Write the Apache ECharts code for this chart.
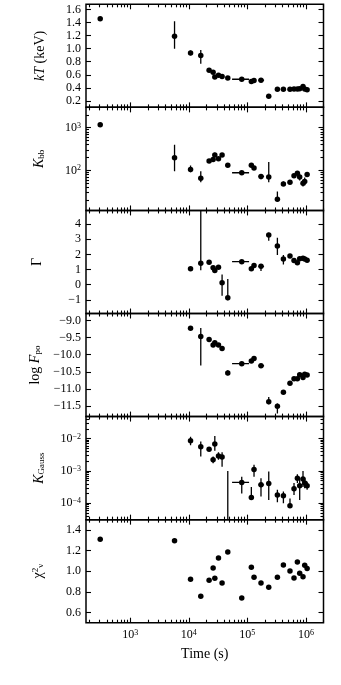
<!DOCTYPE html>
<html>
<head>
<meta charset="utf-8">
<script src="https://cdn.jsdelivr.net/npm/echarts@6/dist/echarts.min.js"></script>
<style>
  html, body { margin: 0; padding: 0; background: #fff; }
  #chart { width: 341px; height: 685px; }
</style>
</head>
<body>
<div id="chart"></div>
<script>
// epochs (s) and horizontal error bounds
var time   = [306, 5700, 10700, 16000, 22200, 26000, 27800, 32100, 37000, 46300, 80200, 117000, 130000, 171000, 232000, 326000, 413000, 535000, 627000, 716000, 784000, 893000, 955000, 1050000];
var timeLo = [null, null, null, null, null, null, null, null, null, null, 54800, null, null, 155000, null, null, null, null, null, null, null, null, null, null];
var timeHi = [null, null, null, null, null, null, null, null, null, null, 107000, null, null, 193000, null, null, null, null, null, null, null, null, null, null];

// kT (keV)
var kT   = [1.46, 1.19, 0.935, 0.895, 0.669, 0.638, 0.567, 0.592, 0.572, 0.552, 0.531, 0.496, 0.511, 0.516, 0.27, 0.378, 0.378, 0.378, 0.38, 0.38, 0.385, 0.419, 0.38, 0.37];
var kTLo = [null, 1.0, 0.9, 0.77, null, null, null, null, null, null, null, null, null, null, null, null, null, null, null, null, null, null, null, null];
var kTHi = [null, 1.42, 0.97, 0.98, null, null, null, null, null, null, null, null, null, null, null, null, null, null, null, null, null, null, null, null];

// K_bb
var kbb   = [1180, 198, 105, 65, 165, 181, 228, 188, 228, 131, 88, 131, 113, 72, 70, 21, 48, 53, 75, 86, 70, 50, 55, 80];
var kbbLo = [null, 95, 90, 53, null, null, 200, null, null, null, null, null, null, 62, 53, 19, 43, null, null, null, 58, 42, 45, null];
var kbbHi = [null, 400, 130, 96, null, null, 260, null, null, null, null, null, null, 80, 157, 32, 55, null, null, null, 80, 60, 68, null];

// photon index
var gamma   = [null, null, 1.06, 1.41, 1.49, 1.12, 0.94, 1.16, 0.13, -0.86, 1.52, 1.06, 1.27, 1.21, 3.28, 2.55, 1.69, 1.89, 1.6, 1.45, 1.72, 1.74, 1.69, 1.62];
var gammaLo = [null, null, null, 0.96, null, null, null, null, -0.73, -1.02, null, null, null, 0.9, 2.9, 1.96, 1.34, null, null, 1.3, null, null, null, null];
var gammaHi = [null, null, null, 6, null, null, null, null, 0.68, 0.37, null, null, null, 1.35, 3.43, 3.1, 1.96, null, null, 1.55, null, null, null, null];

// log F_po
var logF   = [null, null, -9.23, -9.47, -9.56, -9.72, -9.65, -9.72, -9.82, -10.53, -10.26, -10.18, -10.11, -10.32, -11.37, -11.5, -11.09, -10.83, -10.7, -10.7, -10.58, -10.66, -10.57, -10.59];
var logFLo = [null, null, null, -10.31, null, null, null, null, null, -10.6, null, null, null, null, -11.44, -11.71, null, null, null, null, null, null, null, null];
var logFHi = [null, null, null, -9.22, null, null, null, null, null, -10.45, null, null, null, null, -11.23, -11.42, null, null, null, null, null, null, null, null];

// K_Gauss (index 9 is an upper limit: bar only)
var kG   = [null, null, 8.6e-3, 5.6e-3, 4.7e-3, 2.2e-3, 6.8e-3, 2.9e-3, 2.7e-3, null, 4.4e-4, 1.5e-4, 1.1e-3, 3.7e-4, 4.1e-4, 1.8e-4, 1.7e-4, 8.3e-5, 2.8e-4, 5.9e-4, 3.5e-4, 5.6e-4, 4.2e-4, 3.5e-4];
var kGLo = [null, null, 6.2e-3, 2.8e-3, null, 1.74e-3, 4.2e-3, 2.2e-3, 1.35e-3, 3.1e-5, 2.0e-4, 1.3e-4, 6.6e-4, 1.6e-4, 1.26e-4, 1.07e-4, 1.0e-4, 7.2e-5, 1.8e-4, 4.2e-4, 1.26e-4, 3.2e-4, 2.9e-4, 2.6e-4];
var kGHi = [null, null, 1.15e-2, 8.1e-3, null, 2.8e-3, 1.2e-2, 3.8e-3, 3.8e-3, 1.0e-3, 6.6e-4, 3.2e-4, 1.55e-3, 5.9e-4, 9.5e-4, 2.6e-4, 2.3e-4, 1.4e-4, 4.2e-4, 7.9e-4, 5.9e-4, 1.0e-3, 5.9e-4, 4.6e-4];

// reduced chi-square
var chi = [1.31, 1.295, 0.922, 0.757, 0.912, 1.032, 0.932, 1.127, 0.886, 1.185, 0.74, 1.039, 0.942, 0.886, 0.844, 0.942, 1.061, 1.003, 0.935, 1.09, 0.98, 0.947, 1.058, 1.025];

var xMajor = [1e3, 1e4, 1e5, 1e6];

var FONT = 'Liberation Serif';
var GRID_TOP = 4.3, PANEL_H = 103.07, GRID_LEFT = 86, GRID_RIGHT = 17.5;
var MAJOR_LEN = 5, MINOR_LEN = 3;

function logMinors(lo, hi) {
  var out = [];
  for (var e = Math.floor(Math.log10(lo)); e <= Math.ceil(Math.log10(hi)); e++) {
    for (var k = 2; k <= 9; k++) {
      var v = k * Math.pow(10, e);
      if (v >= lo && v <= hi) out.push(v);
    }
  }
  return out;
}
function steps(a, b, d) {
  var out = [];
  for (var v = a; v <= b + 1e-9; v += d) out.push(Math.round(v * 100) / 100);
  return out;
}
function powLabel(v) {
  var e = Math.round(Math.log10(v));
  return '{b|10}{s|' + (e < 0 ? '\u2212' + (-e) : e) + '}';
}
function linLabel(dec) {
  return function (v) { return (v < 0 ? '\u2212' : '') + Math.abs(v).toFixed(dec); };
}

var panels = [
  { name: '{i|kT} (keV)', y: kT, lo: kTLo, hi: kTHi, type: 'value', min: 0.1, max: 1.68,
    major: steps(0.2, 1.6, 0.2), fmt: linLabel(1), gap: 39 },
  { name: '{i|K}{s|bb}', y: kbb, lo: kbbLo, hi: kbbHi, type: 'log', min: 11.5, max: 3000,
    major: [100, 1000], fmt: powLabel, gap: 40 },
  { name: '\u0393', y: gamma, lo: gammaLo, hi: gammaHi, type: 'value', min: -1.9, max: 4.9,
    major: [-1, 0, 1, 2, 3, 4], fmt: linLabel(0), gap: 42 },
  { name: 'log {i|F}{s|po}', y: logF, lo: logFLo, hi: logFHi, type: 'value', min: -11.8, max: -8.8,
    major: steps(-11.5, -9, 0.5), fmt: linLabel(1), gap: 37 },
  { name: '{i|K}{s|Gauss}', y: kG, lo: kGLo, hi: kGHi, type: 'log', min: 3.1e-5, max: 0.048,
    major: [1e-4, 1e-3, 1e-2], fmt: powLabel, gap: 40 },
  { name: '\u03c7{p|2}{s|\u03bd}', y: chi, lo: null, hi: null, type: 'value', min: 0.5, max: 1.5,
    major: steps(0.6, 1.4, 0.2), fmt: linLabel(1), gap: 41 }
];

var richTxt = {
  i: { fontFamily: FONT, fontStyle: 'italic', fontSize: 14, color: '#000' },
  s: { fontFamily: FONT, fontSize: 9, verticalAlign: 'bottom', color: '#000' },
  p: { fontFamily: FONT, fontSize: 9, verticalAlign: 'top', color: '#000' }
};
var richTick = {
  b: { fontFamily: FONT, fontSize: 12, color: '#000' },
  s: { fontFamily: FONT, fontSize: 8, verticalAlign: 'top', color: '#000' }
};

function tickOnly(base, pos, values, len) {
  var a = Object.assign({}, base);
  a.position = pos;
  a.axisLine = { show: false, onZero: false };
  a.splitLine = { show: false };
  a.axisLabel = { show: false };
  a.axisTick = { show: true, inside: true, length: len, customValues: values,
                 lineStyle: { color: '#000', width: 1.1 } };
  return a;
}

var grids = [], xAxes = [], yAxes = [], series = [];
var xMinor = logMinors(175, 2e6);

panels.forEach(function (p, gi) {
  grids.push({ left: GRID_LEFT, right: GRID_RIGHT, top: GRID_TOP + gi * PANEL_H, height: PANEL_H,
               show: true, borderColor: '#000', borderWidth: 1.5, backgroundColor: 'transparent',
               containLabel: false, outerBoundsMode: 'none' });

  var last = gi === panels.length - 1;
  var xBase = { gridIndex: gi, type: 'log', logBase: 10, min: 175, max: 2e6 };
  var xi = xAxes.length;
  var xMain = tickOnly(xBase, 'bottom', xMajor, MAJOR_LEN);
  if (last) {
    xMain.axisLabel = { show: true, customValues: xMajor, formatter: powLabel, rich: richTick, margin: 6 };
    xMain.name = 'Time (s)';
    xMain.nameLocation = 'middle';
    xMain.nameGap = 25;
    xMain.nameTextStyle = { fontFamily: FONT, fontSize: 14, color: '#000' };
  }
  xAxes.push(xMain);
  xAxes.push(tickOnly(xBase, 'bottom', xMinor, MINOR_LEN));
  xAxes.push(tickOnly(xBase, 'top', xMajor, MAJOR_LEN));
  xAxes.push(tickOnly(xBase, 'top', xMinor, MINOR_LEN));

  var yBase = { gridIndex: gi, type: p.type, min: p.min, max: p.max };
  if (p.type === 'log') yBase.logBase = 10;
  var yi = yAxes.length;
  var yMain = tickOnly(yBase, 'left', p.major, MAJOR_LEN);
  yMain.axisLabel = { show: true, customValues: p.major, formatter: p.fmt, rich: richTick,
                      fontFamily: FONT, fontSize: 12, color: '#000', margin: 5 };
  yMain.name = p.name;
  yMain.nameLocation = 'middle';
  yMain.nameRotate = 90;
  yMain.nameGap = p.gap;
  yMain.nameTextStyle = { fontFamily: FONT, fontSize: 14, color: '#000', rich: richTxt };
  yAxes.push(yMain);
  yAxes.push(tickOnly(yBase, 'right', p.major, MAJOR_LEN));
  if (p.type === 'log') {
    var yMinor = logMinors(p.min, p.max);
    yAxes.push(tickOnly(yBase, 'left', yMinor, MINOR_LEN));
    yAxes.push(tickOnly(yBase, 'right', yMinor, MINOR_LEN));
  }

  // error bars (the chi-square panel has none)
  var errData = [];
  if (p.lo) {
    time.forEach(function (t, k) {
      var hasY = p.lo[k] != null;
      var hasX = timeLo[k] != null && p.y[k] != null;
      if (!hasY && !hasX) return;
      var v = p.y[k] != null ? p.y[k] : p.hi[k];
      errData.push([t, v,
        hasY ? p.lo[k] : v, hasY ? p.hi[k] : v,
        hasX ? timeLo[k] : t, hasX ? timeHi[k] : t]);
    });
  }
  series.push({
    type: 'custom', xAxisIndex: xi, yAxisIndex: yi, clip: true, silent: true,
    encode: { x: 0, y: 1 },
    data: errData,
    renderItem: function (params, api) {
      var t = api.value(0), v = api.value(1), lo = api.value(2), hi = api.value(3),
          tl = api.value(4), th = api.value(5);
      var st = { stroke: '#000', lineWidth: 1.3 };
      var ch = [];
      if (lo !== hi) {
        var a = api.coord([t, lo]), b = api.coord([t, hi]);
        ch.push({ type: 'line', shape: { x1: a[0], y1: a[1], x2: b[0], y2: b[1] }, style: st });
      }
      if (tl !== th) {
        var c = api.coord([tl, v]), d = api.coord([th, v]);
        ch.push({ type: 'line', shape: { x1: c[0], y1: c[1], x2: d[0], y2: d[1] }, style: st });
      }
      return { type: 'group', children: ch };
    }
  });

  var pts = [];
  time.forEach(function (t, k) { if (p.y[k] != null) pts.push([t, p.y[k]]); });
  series.push({
    type: 'scatter', xAxisIndex: xi, yAxisIndex: yi, data: pts,
    symbol: 'circle', symbolSize: 5.5, itemStyle: { color: '#000', opacity: 1 }, silent: true, z: 3
  });
});

var chart = echarts.init(document.getElementById('chart'), null, { renderer: 'canvas' });
chart.setOption({
  animation: false,
  backgroundColor: '#fff',
  textStyle: { fontFamily: FONT, color: '#000' },
  grid: grids,
  xAxis: xAxes,
  yAxis: yAxes,
  series: series
});
</script>
</body>
</html>
